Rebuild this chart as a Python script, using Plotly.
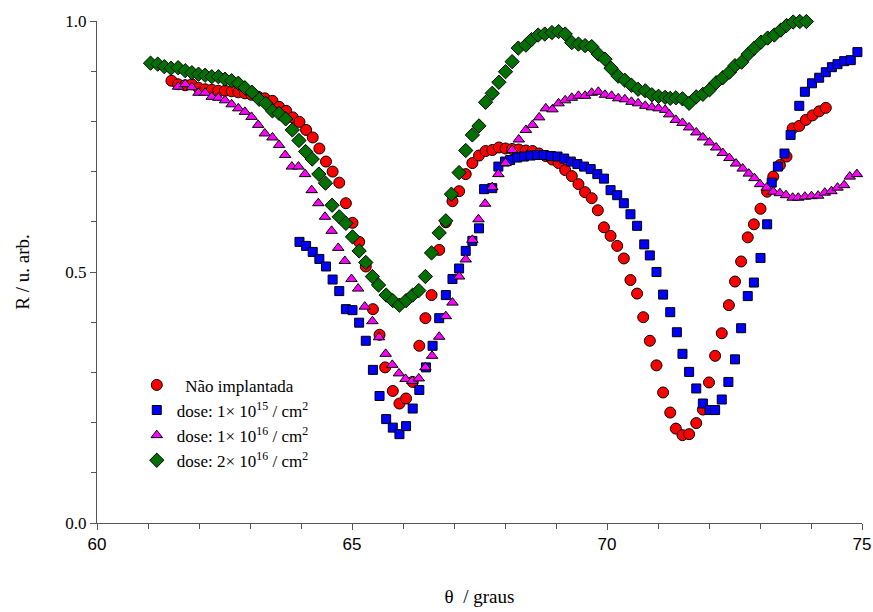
import plotly.graph_objects as go

# ---------------- data ----------------
red_x = [61.46, 61.59, 61.73, 61.86, 61.99, 62.12, 62.25, 62.38, 62.51, 62.64, 62.77, 62.90, 63.03, 63.16, 63.29,
         63.44, 63.57, 63.71, 63.84, 63.97, 64.10, 64.23, 64.36, 64.49, 64.62, 64.75, 64.88, 65.01, 65.14, 65.27,
         65.41, 65.54, 65.65, 65.80, 65.93, 66.06, 66.19, 66.32, 66.44, 66.56, 66.71, 66.84, 66.97, 67.10, 67.23,
         67.36, 67.49, 67.62, 67.75, 67.88, 68.01, 68.14, 68.27, 68.41, 68.54, 68.67, 68.80, 68.93, 69.05, 69.18,
         69.31, 69.44, 69.57, 69.70, 69.82, 69.94, 70.07, 70.20, 70.33, 70.46, 70.59, 70.71, 70.84, 70.97, 71.10,
         71.24, 71.35, 71.48, 71.61, 71.75, 71.88, 72.00, 72.12, 72.25, 72.39, 72.51, 72.63, 72.76, 72.88, 73.01,
         73.14, 73.26, 73.39, 73.52, 73.64, 73.77, 73.90, 74.03, 74.16, 74.29]
red_y = [0.881, 0.874, 0.872, 0.874, 0.867, 0.864, 0.863, 0.861, 0.861, 0.860, 0.858, 0.856, 0.853, 0.849, 0.846,
         0.841, 0.829, 0.821, 0.808, 0.799, 0.783, 0.768, 0.746, 0.720, 0.700, 0.678, 0.637, 0.598, 0.560, 0.511,
         0.426, 0.375, 0.310, 0.263, 0.238, 0.248, 0.281, 0.353, 0.408, 0.454, 0.544, 0.599, 0.641, 0.661, 0.695,
         0.717, 0.732, 0.741, 0.743, 0.748, 0.746, 0.745, 0.744, 0.742, 0.741, 0.736, 0.731, 0.724, 0.717, 0.703,
         0.691, 0.675, 0.659, 0.647, 0.623, 0.589, 0.572, 0.552, 0.527, 0.484, 0.457, 0.410, 0.363, 0.314, 0.260,
         0.220, 0.188, 0.175, 0.177, 0.199, 0.226, 0.280, 0.333, 0.378, 0.434, 0.481, 0.521, 0.569, 0.595, 0.626,
         0.660, 0.690, 0.713, 0.730, 0.786, 0.791, 0.803, 0.812, 0.820, 0.827]

blue_x = [63.97, 64.10, 64.23, 64.36, 64.49, 64.62, 64.75, 64.88, 65.01, 65.14, 65.27, 65.41, 65.54, 65.67, 65.80,
          65.93, 66.06, 66.19, 66.32, 66.45, 66.58, 66.71, 66.84, 66.97, 67.10, 67.23, 67.36, 67.49, 67.59, 67.75,
          67.87, 68.00, 68.10, 68.24, 68.37, 68.50, 68.63, 68.76, 68.90, 69.03, 69.16, 69.29, 69.42, 69.55, 69.68,
          69.81, 69.94, 70.07, 70.20, 70.33, 70.46, 70.59, 70.73, 70.84, 70.97, 71.10, 71.24, 71.37, 71.48, 71.61,
          71.75, 71.88, 72.01, 72.12, 72.25, 72.38, 72.51, 72.63, 72.76, 72.88, 73.01, 73.14, 73.23, 73.35, 73.48,
          73.60, 73.77, 73.88, 74.02, 74.16, 74.29, 74.41, 74.52, 74.65, 74.78, 74.91]
blue_y = [0.560, 0.552, 0.540, 0.526, 0.511, 0.485, 0.462, 0.426, 0.424, 0.399, 0.363, 0.305, 0.253, 0.207, 0.190,
          0.177, 0.193, 0.228, 0.265, 0.310, 0.353, 0.408, 0.454, 0.486, 0.507, 0.542, 0.562, 0.587, 0.665, 0.667,
          0.710, 0.720, 0.723, 0.728, 0.730, 0.732, 0.733, 0.733, 0.731, 0.730, 0.726, 0.720, 0.715, 0.710, 0.705,
          0.695, 0.686, 0.663, 0.653, 0.637, 0.615, 0.592, 0.555, 0.533, 0.500, 0.455, 0.420, 0.380, 0.337, 0.301,
          0.268, 0.238, 0.225, 0.225, 0.246, 0.281, 0.326, 0.388, 0.452, 0.479, 0.528, 0.595, 0.678, 0.710, 0.736,
          0.773, 0.831, 0.859, 0.876, 0.887, 0.898, 0.908, 0.914, 0.920, 0.922, 0.938]

mag_x = [61.59, 61.73, 61.86, 61.99, 62.12, 62.25, 62.38, 62.51, 62.64, 62.77, 62.90, 63.03, 63.16, 63.29, 63.44,
         63.57, 63.69, 63.82, 63.95, 64.08, 64.21, 64.34, 64.47, 64.60, 64.73, 64.86, 64.99, 65.12, 65.25, 65.40,
         65.53, 65.66, 65.79, 65.92, 66.05, 66.18, 66.31, 66.44, 66.57, 66.71, 66.84, 66.97, 67.10, 67.23, 67.36,
         67.48, 67.61, 67.75, 67.87, 68.01, 68.14, 68.27, 68.41, 68.54, 68.67, 68.80, 68.93, 69.05, 69.18, 69.31,
         69.44, 69.57, 69.70, 69.83, 69.96, 70.09, 70.22, 70.35, 70.48, 70.61, 70.75, 70.88, 71.01, 71.14, 71.22,
         71.35, 71.48, 71.61, 71.75, 71.88, 72.01, 72.14, 72.27, 72.40, 72.53, 72.66, 72.78, 72.89, 73.00, 73.13,
         73.26, 73.39, 73.51, 73.64, 73.75, 73.88, 74.01, 74.14, 74.27, 74.40, 74.52, 74.65, 74.76, 74.90]
mag_y = [0.869, 0.874, 0.868, 0.857, 0.857, 0.849, 0.847, 0.842, 0.834, 0.826, 0.819, 0.809, 0.793, 0.776, 0.768,
         0.753, 0.733, 0.710, 0.710, 0.695, 0.663, 0.637, 0.610, 0.582, 0.548, 0.522, 0.486, 0.467, 0.431, 0.402,
         0.370, 0.337, 0.315, 0.298, 0.287, 0.283, 0.288, 0.310, 0.333, 0.371, 0.412, 0.439, 0.491, 0.525, 0.564,
         0.605, 0.636, 0.669, 0.695, 0.717, 0.743, 0.764, 0.783, 0.793, 0.808, 0.826, 0.824, 0.836, 0.842, 0.847,
         0.851, 0.851, 0.857, 0.859, 0.853, 0.851, 0.846, 0.844, 0.839, 0.836, 0.831, 0.828, 0.826, 0.823, 0.814,
         0.803, 0.797, 0.788, 0.778, 0.768, 0.758, 0.748, 0.737, 0.727, 0.716, 0.706, 0.696, 0.687, 0.675, 0.668,
         0.660, 0.657, 0.653, 0.648, 0.648, 0.650, 0.651, 0.652, 0.658, 0.661, 0.668, 0.673, 0.690, 0.695]

green_x = [61.05, 61.19, 61.32, 61.45, 61.59, 61.73, 61.86, 61.99, 62.12, 62.25, 62.38, 62.51, 62.64, 62.77, 62.90,
           63.04, 63.18, 63.31, 63.44, 63.57, 63.70, 63.83, 63.96, 64.09, 64.22, 64.35, 64.48, 64.61, 64.75, 64.88,
           65.01, 65.14, 65.27, 65.40, 65.52, 65.67, 65.80, 65.93, 66.06, 66.19, 66.31, 66.44, 66.56, 66.71, 66.84,
           66.95, 67.10, 67.23, 67.36, 67.49, 67.62, 67.75, 67.88, 68.01, 68.14, 68.26, 68.41, 68.52, 68.65, 68.78,
           68.92, 69.05, 69.18, 69.31, 69.44, 69.57, 69.70, 69.83, 69.96, 70.08, 70.22, 70.35, 70.48, 70.61, 70.75,
           70.88, 71.01, 71.14, 71.24, 71.35, 71.48, 71.61, 71.75, 71.88, 72.01, 72.14, 72.27, 72.40, 72.51, 72.64,
           72.77, 72.89, 73.02, 73.15, 73.28, 73.41, 73.52, 73.65, 73.78, 73.91]
green_y = [0.916, 0.914, 0.909, 0.906, 0.907, 0.901, 0.897, 0.894, 0.892, 0.889, 0.889, 0.884, 0.881, 0.876, 0.867,
           0.858, 0.844, 0.836, 0.821, 0.816, 0.805, 0.783, 0.762, 0.740, 0.725, 0.695, 0.677, 0.633, 0.610, 0.597,
           0.570, 0.542, 0.519, 0.491, 0.474, 0.454, 0.443, 0.434, 0.443, 0.454, 0.463, 0.491, 0.538, 0.578, 0.602,
           0.655, 0.698, 0.742, 0.773, 0.791, 0.838, 0.856, 0.878, 0.899, 0.919, 0.946, 0.952, 0.963, 0.972, 0.974,
           0.977, 0.979, 0.974, 0.957, 0.954, 0.951, 0.949, 0.934, 0.924, 0.906, 0.890, 0.882, 0.872, 0.864, 0.861,
           0.853, 0.850, 0.848, 0.846, 0.847, 0.845, 0.836, 0.849, 0.854, 0.863, 0.877, 0.887, 0.898, 0.911, 0.918,
           0.934, 0.946, 0.958, 0.966, 0.972, 0.982, 0.991, 0.998, 0.999, 0.999]

names = ["\u00a0\u00a0Não implantada",
         "dose: 1× 10<sup>15</sup> / cm<sup>2</sup>",
         "dose: 1× 10<sup>16</sup> / cm<sup>2</sup>",
         "dose: 2× 10<sup>16</sup> / cm<sup>2</sup>"]
x_ticks = [60, 65, 70, 75]
y_ticks = [0.0, 0.5, 1.0]

SERIF = "Liberation Serif, Times New Roman, serif"
SANS = "Liberation Sans, Arial, sans-serif"

# ---------------- figure ----------------
series = [
    (red_x, red_y, "circle", "#FF0000", 11),
    (blue_x, blue_y, "square", "#0000FF", 9),
    (mag_x, mag_y, "triangle-up", "#FF00FF", 10),
    (green_x, green_y, "diamond", "#007000", 11),
]

fig = go.Figure()
for (xs, ys, sym, col, sz), nm in zip(series, names):
    fig.add_trace(go.Scatter(
        x=xs, y=ys, mode="markers", name=nm, cliponaxis=False,
        marker=dict(symbol=sym, color=col, size=sz, line=dict(color="black", width=1)),
    ))

axis_col = "#555555"
fig.update_layout(
    width=873, height=612,
    margin=dict(l=97, r=11, t=21, b=89),
    paper_bgcolor="white", plot_bgcolor="white",
    showlegend=True,
    legend=dict(
        x=0.052, y=0.31, xanchor="left", yanchor="top",
        bgcolor="rgba(0,0,0,0)",
        font=dict(family=SERIF, size=17, color="black"),
        tracegroupgap=0, itemsizing="trace",
    ),
    xaxis=dict(
        range=[60, 75], showgrid=False, zeroline=False, automargin=False,
        showline=True, linecolor=axis_col, linewidth=1,
        ticks="outside", ticklen=6, tickcolor=axis_col,
        tickvals=x_ticks, ticktext=[str(t) for t in x_ticks],
        tickfont=dict(family=SANS, size=17, color="black"),
        minor=dict(dtick=1, ticks="outside", ticklen=5, tickcolor=axis_col),
        title=dict(text="θ  / graus", font=dict(family=SERIF, size=19, color="black"),
                   standoff=36),
    ),
    yaxis=dict(
        range=[0, 1], showgrid=False, zeroline=False, automargin=False,
        showline=True, linecolor=axis_col, linewidth=1,
        ticks="outside", ticklen=6, tickcolor=axis_col,
        tickvals=y_ticks, ticktext=["%.1f" % t for t in y_ticks],
        tickfont=dict(family=SERIF, size=17, color="black"),
        minor=dict(dtick=0.1, ticks="outside", ticklen=5, tickcolor=axis_col),
        title=dict(text="R / u. arb.", font=dict(family=SERIF, size=19, color="black"),
                   standoff=30),
    ),
)

fig.write_html("out.html")
